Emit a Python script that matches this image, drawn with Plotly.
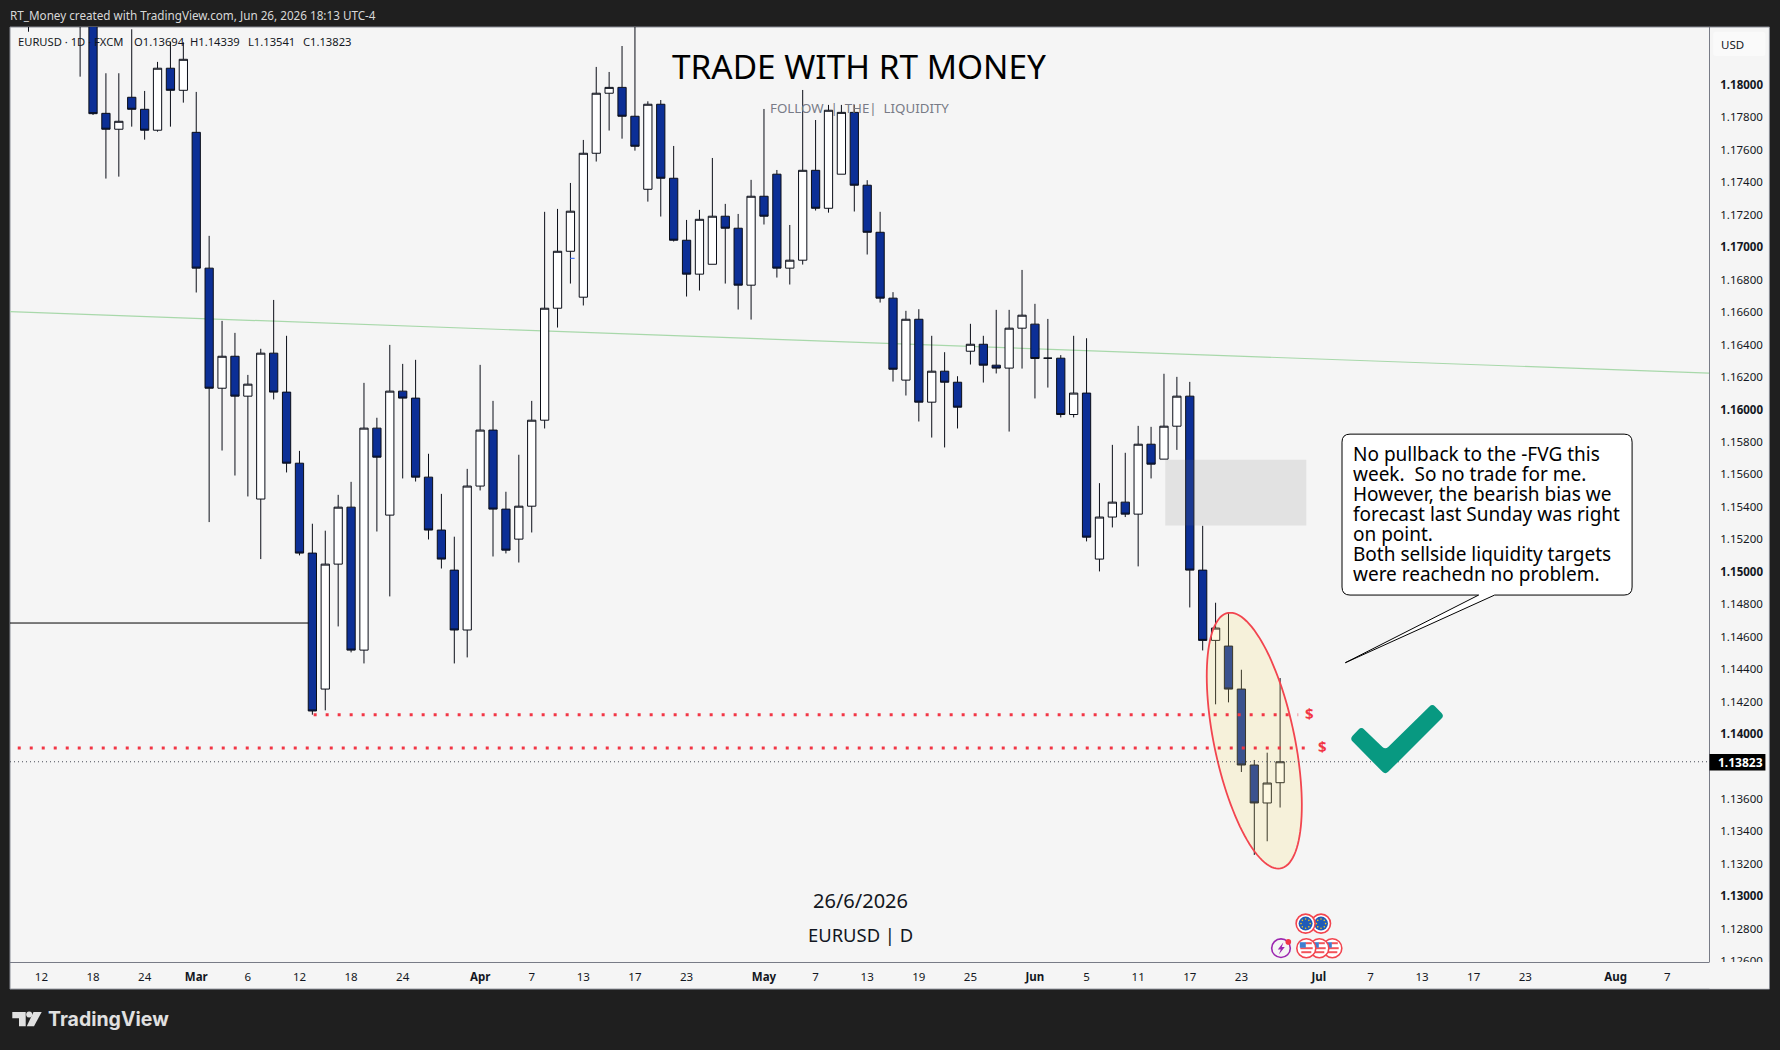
import numpy as np
import plotly.graph_objects as go

# ---------- data ----------
bar_index = [1] + list(range(5, 99))
opens = [1.18600,1.18550,1.18420,1.17819,1.17721,1.17918,1.17844,1.17715,1.18097,1.17961,1.17702,1.16865,1.16125,1.16322,1.16076,1.15442,1.16341,1.16101,1.15663,1.15109,
 1.14271,1.15041,1.15392,1.14511,1.15879,1.15343,1.16107,1.16064,1.15577,1.15251,1.15004,1.14635,1.15522,1.15867,1.15380,1.15195,1.15398,1.15928,1.16618,1.16969,
 1.16686,1.17573,1.17943,1.17979,1.17801,1.17351,1.17875,1.17419,1.17037,1.16828,1.16889,1.17185,1.17111,1.16760,1.17308,1.17444,1.16865,1.16914,1.17468,1.17234,
 1.17444,1.17825,1.17376,1.17086,1.16680,1.16175,1.16550,1.16039,1.16230,1.16162,1.16353,1.16396,1.16267,1.16249,1.16495,1.16520,1.16310,1.16310,1.15963,1.16095,
 1.15072,1.15331,1.15423,1.15349,1.15780,1.15688,1.15891,1.16076,1.15004,1.14571,1.14536,1.14271,1.13803,1.13569,1.13694]
highs = [1.18700,1.18720,1.18480,1.18066,1.18066,1.18337,1.17957,1.18136,1.18261,1.18257,1.17951,1.17064,1.16540,1.16466,1.16207,1.16368,1.16669,1.16448,1.15739,1.15290,
 1.15247,1.15468,1.15548,1.16158,1.15943,1.16392,1.16275,1.16300,1.15721,1.15474,1.15210,1.15628,1.16269,1.16047,1.15487,1.15715,1.16047,1.17212,1.17230,1.17390,
 1.17655,1.18105,1.18074,1.18234,1.18420,1.17893,1.17901,1.17618,1.17162,1.17224,1.17544,1.17261,1.17199,1.17409,1.17846,1.17470,1.17131,1.17963,1.17778,1.17871,
 1.17871,1.17871,1.17407,1.17212,1.16717,1.16602,1.16612,1.16448,1.16347,1.16199,1.16522,1.16448,1.16608,1.16608,1.16854,1.16645,1.16552,1.16329,1.16448,1.16433,
 1.15540,1.15776,1.15727,1.15893,1.15887,1.16214,1.16195,1.16164,1.15277,1.14803,1.14739,1.14390,1.13834,1.13879,1.14339]
lows = [1.18322,1.18045,1.17809,1.17417,1.17429,1.17737,1.17657,1.17706,1.17737,1.17885,1.16715,1.15300,1.15741,1.15587,1.15458,1.15072,1.16056,1.15606,1.15095,1.14113,
 1.14140,1.14657,1.14497,1.14429,1.15242,1.14842,1.15569,1.15550,1.15193,1.15014,1.14429,1.14466,1.15495,1.15088,1.15107,1.15051,1.15236,1.15877,1.16499,1.16770,
 1.16635,1.17522,1.17713,1.17663,1.17589,1.17275,1.17183,1.17029,1.16690,1.16727,1.16889,1.16770,1.16610,1.16548,1.17134,1.16807,1.16764,1.16887,1.17220,1.17207,
 1.17444,1.17214,1.16949,1.16653,1.16166,1.16080,1.15920,1.15821,1.15760,1.15877,1.16271,1.16160,1.16216,1.15858,1.16246,1.16062,1.16129,1.15945,1.15945,1.15181,
 1.14996,1.15267,1.15331,1.15027,1.15569,1.15688,1.15745,1.14774,1.14509,1.14177,1.14189,1.13760,1.13249,1.13333,1.13541]
closes = [1.18480,1.18420,1.17817,1.17721,1.17770,1.17844,1.17715,1.18097,1.17961,1.18152,1.16865,1.16125,1.16322,1.16076,1.16150,1.16341,1.16101,1.15663,1.15109,1.14136,
 1.15041,1.15392,1.14511,1.15879,1.15700,1.16107,1.16064,1.15577,1.15251,1.15072,1.14635,1.15522,1.15867,1.15380,1.15127,1.15398,1.15928,1.16618,1.16969,1.17216,
 1.17573,1.17943,1.17979,1.17801,1.17616,1.17875,1.17419,1.17037,1.16828,1.17166,1.17185,1.17111,1.16760,1.17308,1.17185,1.16865,1.16914,1.17468,1.17234,1.17838,
 1.17825,1.17376,1.17086,1.16680,1.16242,1.16550,1.16039,1.16230,1.16162,1.16008,1.16396,1.16267,1.16249,1.16495,1.16575,1.16308,1.16310,1.15963,1.16095,1.15207,
 1.15331,1.15423,1.15349,1.15780,1.15657,1.15891,1.16076,1.15004,1.14571,1.14647,1.14271,1.13803,1.13569,1.13692,1.13823]

x_tick_bars = [2,6,10,14,18,22,26,30,36,40,44,48,52,58,62,66,70,74,79,83,87,91,95,101,105,109,113,117,124,128]
x_tick_text = ["12","18","24","<b>Mar</b>","6","12","18","24","<b>Apr</b>","7","13","17","23","<b>May</b>","7","13","19","25",
               "<b>Jun</b>","5","11","17","23","<b>Jul</b>","7","13","17","23","<b>Aug</b>","7"]
y_ticks = [1.126,1.128,1.130,1.132,1.134,1.136,1.140,1.142,1.144,1.146,1.148,1.150,1.152,1.154,1.156,1.158,1.160,1.162,1.164,1.166,1.168,1.170,1.172,1.174,1.176,1.178,1.180]
y_tick_text = [("<b>%.5f</b>" % t) if abs(round(t*100)-t*100) < 1e-6 else "%.5f" % t for t in y_ticks]

last_price = 1.13823
green_line = (1.16597, 1.16218)
black_line = 1.14678
liq_upper = 1.14113
liq_lower = 1.13908
fvg = (89.1, 100.03, 1.15279, 1.15684)

callout_lines = ["No pullback to the -FVG this", "week.  So no trade for me.", "However, the bearish bias we",
                 "forecast last Sunday was right", "on point.", "Both sellside liquidity targets", "were reachedn no problem."]

# ---------- geometry ----------
L, R, T, B = 10.0, 1708.6, 27.0, 962.4
X0, X1 = -0.434, 131.24
Y0, Y1 = 1.12589, 1.183511
FONT = "Noto Sans"
def xp(px): return (px - L) / (R - L)
def yp(py): return 1 - (py - T) / (B - T)

def rounded(points, r):
    """closed path in paper coordinates from pixel corners (x, y, radius-or-None)"""
    n = len(points); d = ""
    for i, p in enumerate(points):
        a = np.array(points[i-1][:2], float); c = np.array(p[:2], float); b = np.array(points[(i+1) % n][:2], float)
        rad = p[2] if len(p) > 2 else r
        if rad <= 0:
            d += ("M" if i == 0 else "L") + f"{xp(c[0]):.6f},{yp(c[1]):.6f} "
            continue
        s = c + (a-c)/np.linalg.norm(a-c)*rad; e = c + (b-c)/np.linalg.norm(b-c)*rad
        d += ("M" if i == 0 else "L") + f"{xp(s[0]):.6f},{yp(s[1]):.6f} Q{xp(c[0]):.6f},{yp(c[1]):.6f} {xp(e[0]):.6f},{yp(e[1]):.6f} "
    return d + "Z"

def pshape(kind="rect", x0=0, y0=0, x1=0, y1=0, fill=None, line=None, lw=0, layer="above"):
    return dict(type=kind, xref="paper", yref="paper", x0=xp(x0), x1=xp(x1), y0=yp(y0), y1=yp(y1),
                fillcolor=fill, line=dict(color=line or "rgba(0,0,0,0)", width=lw), layer=layer)
def circ(cx, cy, r, fill=None, line=None, lw=0):
    return pshape("circle", cx-r, cy-r, cx+r, cy+r, fill, line, lw)
def pathshape(d, fill=None, line=None, lw=0, layer="above"):
    return dict(type="path", xref="paper", yref="paper", path=d, fillcolor=fill,
                line=dict(color=line or "rgba(0,0,0,0)", width=lw), layer=layer)
def ann(text, px, py, size=12, color="#131722", anchor="left", family=FONT):
    return dict(text=text, xref="paper", yref="paper", x=xp(px), y=yp(py), xanchor=anchor, yanchor="middle",
                showarrow=False, font=dict(size=size, color=color, family=family), borderpad=0, borderwidth=0)

fig = go.Figure(go.Candlestick(
    x=bar_index, open=opens, high=highs, low=lows, close=closes,
    increasing=dict(line=dict(color="#0b0e18", width=1), fillcolor="#ffffff"),
    decreasing=dict(line=dict(color="#0b0e18", width=1), fillcolor="#0c2f96"),
    whiskerwidth=0, hoverinfo="skip", showlegend=False))

shapes = []
# panel
shapes.append(pshape("rect", L, T, 1769, 989.5, "#f5f5f5", "#8a8d96", 1, "below"))
# trend line, black level
shapes.append(dict(type="line", xref="x", yref="y", x0=X0, x1=X1, y0=green_line[0], y1=green_line[1],
                   line=dict(color="#a8d8aa", width=1.2), layer="below"))
shapes.append(dict(type="line", xref="x", yref="y", x0=X0, x1=23, y0=black_line, y1=black_line,
                   line=dict(color="#000000", width=1), layer="below"))
# FVG block
shapes.append(dict(type="rect", xref="x", yref="y", x0=fvg[0], x1=fvg[1], y0=fvg[2], y1=fvg[3],
                   fillcolor="rgba(120,120,120,0.15)", line=dict(width=0), layer="above"))
# ellipse
t = np.linspace(0, 2*np.pi, 121)
ex = 96.0 + 3.18*np.cos(t) + 1.86*np.sin(t)
ey = 1.13953 - 0.007885*np.sin(t)
shapes.append(dict(type="path", xref="x", yref="y",
                   path="M" + " L".join(f"{a:.4f},{b:.5f}" for a, b in zip(ex[:-1], ey[:-1])) + " Z",
                   fillcolor="rgba(250,225,110,0.2)", line=dict(color="#f2454f", width=1.8), layer="above"))
# dotted levels
shapes.append(dict(type="line", xref="x", yref="y", x0=23.1, x1=99.4, y0=liq_upper, y1=liq_upper,
                   line=dict(color="#f23645", width=3, dash="3px,9px"), layer="above"))
shapes.append(dict(type="line", xref="x", yref="y", x0=X0+0.6, x1=100.2, y0=liq_lower, y1=liq_lower,
                   line=dict(color="#f23645", width=3, dash="3px,9px"), layer="above"))
shapes.append(dict(type="line", xref="x", yref="y", x0=X0, x1=X1, y0=last_price, y1=last_price,
                   line=dict(color="#4a4d57", width=1, dash="1px,3px"), layer="above"))
# small blue tick
shapes.append(dict(type="line", xref="paper", yref="paper", x0=xp(570), x1=xp(574.5), y0=yp(258.4), y1=yp(258.4),
                   line=dict(color="#2962ff", width=1), layer="above"))
# callout
shapes.append(pathshape(rounded([(1341.7,434.3),(1631.7,434.3),(1631.7,595.3),(1494.3,595.3,0),(1345,663,0),(1478.3,595.3,0),(1341.7,595.3)], 8),
                        "#ffffff", "#000000", 1))
# check mark
shapes.append(pathshape(rounded([(1349.5,739),(1361,727),(1385,750),(1432,704),(1444,716),(1385,775)], 4), "#089981"))
# price-axis corner, last-price label, USD box
shapes.append(pshape("rect", R+0.5, 962.4, 1768.5, 989, "#f5f5f5"))
shapes.append(pshape("rect", R+0.5, 754.3, 1765, 770.7, "#000000"))
shapes.append(pathshape(rounded([(1712.7,31.7),(1765,31.7),(1765,56),(1712.7,56)], 3), "#fafafa"))
# TradingView logo
shapes.append(pathshape(rounded([(12.3,1012.3),(25.7,1012.3),(25.7,1026.7),(19,1026.7),(19,1018.7),(12.3,1018.7)], 0), "#e0e0e0", layer="above"))
shapes.append(circ(29.2, 1015, 3, "#e0e0e0"))
shapes.append(pathshape(rounded([(33.5,1012.3),(41.7,1012.3),(34,1026.7),(26.8,1026.7)], 0), "#e0e0e0"))
# event badges
def eu(cx, cy):
    out = [circ(cx, cy, 9.5, "#ffffff", "#f2454f", 1.6), circ(cx, cy, 7, "#1e5bb8")]
    for a in np.linspace(0, 2*np.pi, 8, endpoint=False):
        out.append(circ(cx+4.6*np.cos(a), cy+4.6*np.sin(a), 0.8, "#f5c518"))
    return out
def us(cx, cy):
    out = [circ(cx, cy, 9.5, "#ffffff", "#f2454f", 1.6)]
    out.append(pshape("rect", cx-6, cy-1, cx+6.4, cy+1, "#f2545b"))
    out.append(pshape("rect", cx-5, cy+3, cx+5, cy+5, "#f2545b"))
    out.append(pshape("rect", cx-1, cy-6, cx+5.5, cy-4, "#f2545b"))
    out.append(pshape("rect", cx-6.5, cy-6, cx-0.5, cy-0.5, "#3f7fd0"))
    return out
shapes += eu(1320.7, 924) + eu(1305.3, 924)
shapes += us(1332, 948.6) + us(1319, 948.6) + us(1306, 948.6)
shapes.append(circ(1280.7, 948.6, 9.3, "#f5f5f5", "#9c27b0", 1.6))
shapes.append(pathshape(rounded([(1283,942.8),(1277.5,949.8),(1280.5,949.8),(1278.5,954.8),(1284.5,947.3),(1281.5,947.3)], 0), "#9c27b0"))
shapes.append(circ(1288, 942.3, 2.8, "#f23645"))

anns = [
    ann("RT_Money created with TradingView.com, Jun 26, 2026 18:13 UTC-4", 10, 15.3, 11.7, "#d8d8d8"),
    ann("EURUSD · 1D · FXCM", 18, 41.7, 11.2),
    ann("O1.13694", 133.6, 41.7, 11.2), ann("H1.14339", 190, 41.7, 11.2),
    ann("L1.13541", 248, 41.7, 11.2), ann("C1.13823", 303, 41.7, 11.2),
    ann("TRADE WITH RT MONEY", 858.5, 66, 33.4, "#000000", "center"),
    ann("FOLLOW  |  THE|  LIQUIDITY", 859, 108, 13.3, "#787b86", "center"),
    ann("26/6/2026", 860, 901, 20, "#131722", "center"),
    ann("EURUSD | D", 860, 934.5, 18.4, "#131722", "center"),
    ann("USD", 1721, 44.5, 11.5),
    ann("<b>1.13823</b>", 1717.5, 762.5, 12, "#ffffff"),
    ann("<b>TradingView</b>", 48, 1019.5, 19.5, "#e0e0e0", family="Inter"),
    dict(text="<b>$</b>", xref="x", yref="y", x=100.3, y=liq_upper, yshift=2, showarrow=False, font=dict(size=15, color="#f23645", family=FONT)),
    dict(text="<b>$</b>", xref="x", yref="y", x=101.3, y=liq_lower, yshift=2, showarrow=False, font=dict(size=15, color="#f23645", family=FONT)),
]
for i, line in enumerate(callout_lines):
    anns.append(ann(line, 1353, 454.3 + 20*i, 19, "#000000"))

fig.update_layout(
    width=1780, height=1050, autosize=False,
    paper_bgcolor="#1f1f1f", plot_bgcolor="rgba(0,0,0,0)",
    margin=dict(l=L, r=1780-R, t=T, b=1050-B, pad=0),
    boxgap=0.36, boxgroupgap=0, showlegend=False, shapes=shapes, annotations=anns, hovermode=False,
    font=dict(family=FONT),
    xaxis=dict(range=[X0, X1], rangeslider=dict(visible=False), tickmode="array", tickvals=x_tick_bars, ticktext=x_tick_text,
               tickfont=dict(size=11.5, color="#131722", family=FONT), showgrid=False, zeroline=False, ticks="", ticklabelstandoff=4,
               showline=True, linecolor="#787b86", linewidth=1, fixedrange=True),
    yaxis=dict(range=[Y0, Y1], side="right", tickmode="array", tickvals=y_ticks, ticktext=y_tick_text,
               tickfont=dict(size=11.5, color="#131722", family=FONT), showgrid=False, zeroline=False, ticks="", ticklabelstandoff=8,
               ticklabelshift=1, showline=True, linecolor="#787b86", linewidth=1, fixedrange=True),
)
fig.write_html("out.html", config=dict(displayModeBar=False),
               post_script="document.body.style.margin='0';document.body.style.overflow='hidden';")
